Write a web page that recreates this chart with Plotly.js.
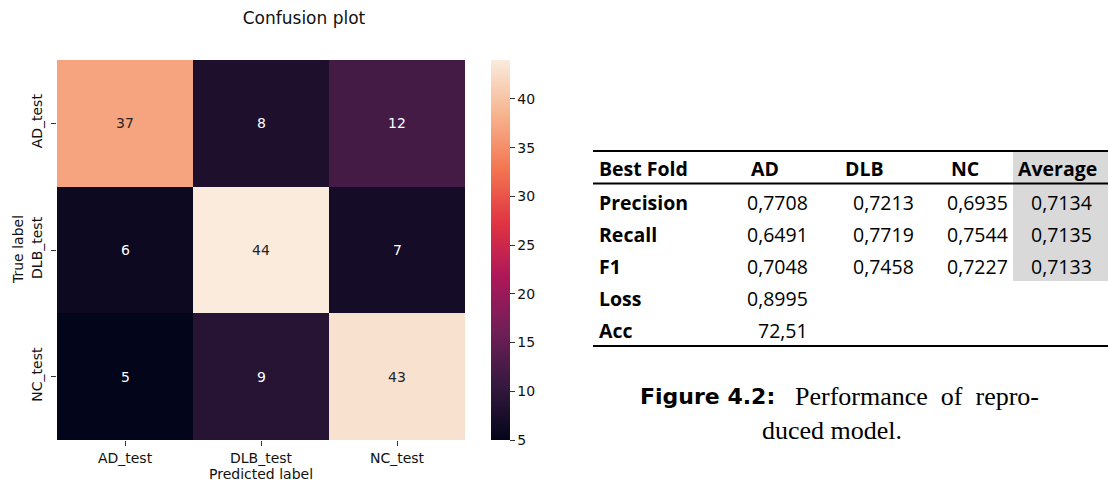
<!DOCTYPE html>
<html>
<head>
<meta charset="utf-8">
<script src="https://cdn.plot.ly/plotly-3.0.1.min.js"></script>
<style>
  html, body { margin: 0; padding: 0; background: #ffffff; }
  #chart { width: 1109px; height: 483px; }
</style>
</head>
<body>
<div id="chart"></div>
<script>
// Confusion matrix: rows are true labels, columns are predicted labels
const predictedLabels = ['AD_test', 'DLB_test', 'NC_test'];
const trueLabels = ['AD_test', 'DLB_test', 'NC_test'];
const countsAD = [37, 8, 12];
const countsDLB = [6, 44, 7];
const countsNC = [5, 9, 43];
const colorbarTicks = [5, 10, 15, 20, 25, 30, 35, 40];

// Performance table of the best fold
const tableHeader = ['Best Fold', 'AD', 'DLB', 'NC', 'Average'];
const metricNames = ['Precision', 'Recall', 'F1'];
const precision = [0.7708, 0.7213, 0.6935, 0.7134];
const recall = [0.6491, 0.7719, 0.7544, 0.7135];
const f1 = [0.7048, 0.7458, 0.7227, 0.7133];
const lossValue = 0.8995;
const accValue = 72.51;

const W = 1109, H = 483;
const px = x => x / W;
const py = y => 1 - y / H;

// seaborn "rocket" colour map
const rocket = [
  [0.000, '#03051a'],
  [0.143, '#35193e'],
  [0.286, '#701f57'],
  [0.429, '#ad1759'],
  [0.571, '#e13342'],
  [0.714, '#f37651'],
  [0.857, '#f6b48f'],
  [1.000, '#faebdd']
];

const z = [countsAD, countsDLB, countsNC];
const zAll = z.flat();
const zMin = Math.min(...zAll), zMax = Math.max(...zAll);

const sansMpl = 'DejaVu Sans, sans-serif';
const tableFont = 'Open Sans, sans-serif';
const tableSize = 19.5;

const heat = {
  type: 'heatmap',
  x: predictedLabels,
  y: trueLabels,
  z: z,
  zmin: zMin,
  zmax: zMax,
  colorscale: rocket,
  xgap: 0, ygap: 0,
  hoverinfo: 'skip',
  colorbar: {
    x: px(491), xanchor: 'left', xref: 'paper',
    y: py(440), yanchor: 'bottom', yref: 'paper',
    len: 380 / H, lenmode: 'fraction',
    thickness: 19, thicknessmode: 'pixels',
    xpad: 0, ypad: 0,
    outlinewidth: 0,
    ticks: 'outside', ticklen: 5, tickwidth: 1, tickcolor: '#333',
    tickvals: colorbarTicks,
    tickfont: { family: sansMpl, size: 14, color: '#111' }
  }
};

const annotations = [];

// cell counts, light text on dark cells and dark text on light cells
z.forEach((row, i) => {
  row.forEach((v, j) => {
    const frac = (v - zMin) / (zMax - zMin);
    annotations.push({
      xref: 'x', yref: 'y',
      x: predictedLabels[j], y: trueLabels[i],
      text: String(v), showarrow: false,
      font: { family: sansMpl, size: 14, color: frac > 0.6 ? '#262626' : '#ffffff' }
    });
  });
});

// axis titles of the heatmap
annotations.push({
  xref: 'x domain', yref: 'paper', x: 0.5, y: py(482.5),
  xanchor: 'center', yanchor: 'bottom', borderpad: 0,
  text: 'Predicted label', showarrow: false,
  font: { family: sansMpl, size: 14, color: '#111' }
});
annotations.push({
  xref: 'paper', yref: 'y domain', x: px(18), y: 0.5,
  xanchor: 'center', yanchor: 'middle', textangle: -90,
  text: 'True label', showarrow: false,
  font: { family: sansMpl, size: 14, color: '#111' }
});

// table text
const fmt = (v, d) => v.toFixed(d).replace('.', ',');
const rowY = [168, 202, 234, 266, 298, 330];
const colRight = [810, 916, 1010, 1094];
const headerX = [597, 765, 864, 965, 1057];

tableHeader.forEach((h, k) => {
  annotations.push({
    xref: 'paper', yref: 'paper',
    x: px(headerX[k]), y: py(rowY[0]),
    xanchor: k === 0 ? 'left' : 'center', yanchor: 'middle',
    text: '<b>' + h + '</b>', showarrow: false,
    font: { family: tableFont, size: tableSize, color: '#000' }
  });
});

const metricRows = [precision, recall, f1];
metricRows.forEach((vals, r) => {
  annotations.push({
    xref: 'paper', yref: 'paper',
    x: px(597), y: py(rowY[r + 1]), xanchor: 'left', yanchor: 'middle',
    text: '<b>' + metricNames[r] + '</b>', showarrow: false,
    font: { family: tableFont, size: tableSize, color: '#000' }
  });
  vals.forEach((v, c) => {
    annotations.push({
      xref: 'paper', yref: 'paper',
      x: px(colRight[c]), y: py(rowY[r + 1]), xanchor: 'right', yanchor: 'middle',
      text: fmt(v, 4), showarrow: false,
      font: { family: tableFont, size: tableSize, color: '#000' }
    });
  });
});

[['Loss', fmt(lossValue, 4)], ['Acc', fmt(accValue, 2)]].forEach((pair, r) => {
  annotations.push({
    xref: 'paper', yref: 'paper',
    x: px(597), y: py(rowY[r + 4]), xanchor: 'left', yanchor: 'middle',
    text: '<b>' + pair[0] + '</b>', showarrow: false,
    font: { family: tableFont, size: tableSize, color: '#000' }
  });
  annotations.push({
    xref: 'paper', yref: 'paper',
    x: px(colRight[0]), y: py(rowY[r + 4]), xanchor: 'right', yanchor: 'middle',
    text: pair[1], showarrow: false,
    font: { family: tableFont, size: tableSize, color: '#000' }
  });
});

// caption under the table
annotations.push({
  xref: 'paper', yref: 'paper',
  x: px(638), y: py(396), xanchor: 'left', yanchor: 'middle',
  text: '<b>Figure 4.2:</b>', showarrow: false,
  font: { family: 'DejaVu Sans, sans-serif', size: 22, color: '#000' }
});
annotations.push({
  xref: 'paper', yref: 'paper',
  x: px(1041), y: py(396), xanchor: 'right', yanchor: 'middle',
  text: 'Performance&nbsp;&nbsp;of&nbsp;&nbsp;repro-', showarrow: false,
  font: { family: 'Liberation Serif, serif', size: 26, color: '#000' }
});
annotations.push({
  xref: 'paper', yref: 'paper',
  x: px(832), y: py(430), xanchor: 'center', yanchor: 'middle',
  text: 'duced model.', showarrow: false,
  font: { family: 'Liberation Serif, serif', size: 26, color: '#000' }
});

const shapes = [
  // shaded Average column
  { type: 'rect', xref: 'paper', yref: 'paper', layer: 'below',
    x0: px(1013), x1: px(1108), y0: py(281), y1: py(152),
    fillcolor: '#d9d9d9', line: { width: 0 } },
  // table rules
  { type: 'line', xref: 'paper', yref: 'paper', x0: px(593), x1: px(1108), y0: py(151), y1: py(151),
    line: { color: '#000', width: 2 } },
  { type: 'line', xref: 'paper', yref: 'paper', x0: px(593), x1: px(1108), y0: py(183.5), y1: py(183.5),
    line: { color: '#000', width: 2 } },
  { type: 'line', xref: 'paper', yref: 'paper', x0: px(593), x1: px(1108), y0: py(346), y1: py(346),
    line: { color: '#000', width: 2 } }
];

const layout = {
  width: W, height: H,
  margin: { l: 0, r: 0, t: 0, b: 0 },
  paper_bgcolor: '#ffffff',
  plot_bgcolor: '#ffffff',
  showlegend: false,
  title: {
    text: 'Confusion plot',
    x: px(304), xanchor: 'center', xref: 'paper',
    y: 1 - 18 / H, yanchor: 'middle', yref: 'container',
    font: { family: sansMpl, size: 17, color: '#111' }
  },
  xaxis: {
    domain: [px(57), px(465)],
    type: 'category',
    showgrid: false, zeroline: false, showline: false,
    ticks: 'outside', ticklen: 5, tickwidth: 1, tickcolor: '#333',
    tickfont: { family: sansMpl, size: 14, color: '#111' },
    automargin: false
  },
  yaxis: {
    domain: [py(440), py(60)],
    type: 'category',
    autorange: 'reversed',
    showgrid: false, zeroline: false, showline: false,
    ticks: 'outside', ticklen: 5, tickwidth: 1, tickcolor: '#333',
    tickangle: -90,
    ticklabelstandoff: 3,
    tickfont: { family: sansMpl, size: 14, color: '#111' },
    automargin: false
  },
  annotations: annotations,
  shapes: shapes
};

Plotly.newPlot('chart', [heat], layout, { displayModeBar: false, staticPlot: true });
</script>
</body>
</html>
